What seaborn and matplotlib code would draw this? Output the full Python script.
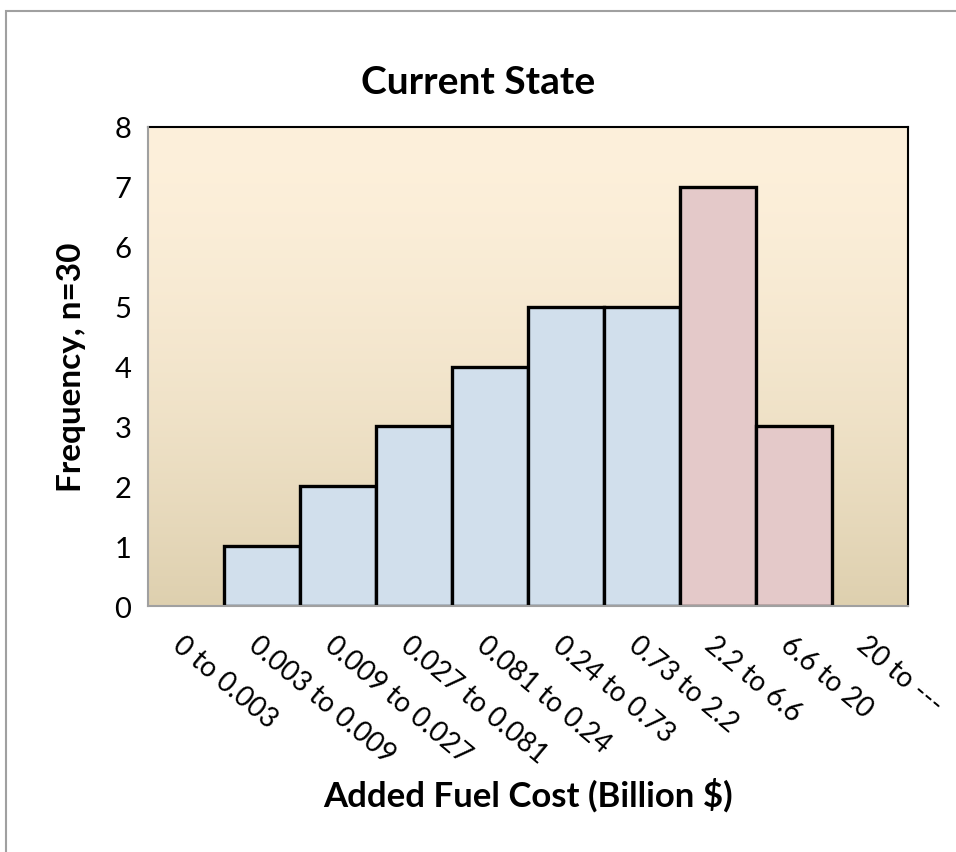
import matplotlib
matplotlib.use('Agg')
import matplotlib.pyplot as plt
from matplotlib.patches import Rectangle
from matplotlib.transforms import ScaledTranslation
import numpy as np
import pandas as pd
import seaborn as sns

# -- Data ----------------------------------------------------------------------
categories = ['0 to 0.003', '0.003 to 0.009', '0.009 to 0.027', '0.027 to 0.081',
              '0.081 to 0.24', '0.24 to 0.73', '0.73 to 2.2', '2.2 to 6.6',
              '6.6 to 20', '20 to ---']
frequency = [0, 1, 2, 3, 4, 5, 5, 7, 3, 0]
group = ['low'] * 7 + ['high'] * 3
y_ticks = [0, 1, 2, 3, 4, 5, 6, 7, 8]

palette = {'low': '#CCDFF1', 'high': '#E9C4C4'}

sns.set_theme(style='white')
plt.rcParams['font.family'] = ['Lato', 'DejaVu Sans']
plt.rcParams['text.color'] = 'black'
plt.rcParams['axes.labelcolor'] = 'black'

df = pd.DataFrame({'bin': categories, 'freq': frequency, 'group': group})

fig = plt.figure(figsize=(9.56, 8.53), dpi=100)
ax = fig.add_axes([148 / 956, 1 - 607 / 853, 760 / 956, 479 / 853])

# gradient plot-area background
grad = np.linspace(0, 1, 256).reshape(-1, 1)
top = np.array([253, 240, 219]) / 255
bottom = np.array([222, 208, 175]) / 255
img = top + (bottom - top) * grad[:, :, None] ** 1.6
ax.imshow(img, extent=[0, 1, 0, 1], transform=ax.transAxes, aspect='auto', zorder=0)

sns.barplot(data=df, x='bin', y='freq', hue='group', palette=palette, dodge=False,
            width=1.0, edgecolor='black', linewidth=2.4, legend=False, ax=ax, zorder=2)
for p in ax.patches:
    if p.get_height() == 0:
        p.set_visible(False)

ax.set_xlim(-0.5, len(categories) - 0.5)
ax.set_ylim(0, 8)
ax.set_yticks(y_ticks)
ax.tick_params(axis='y', length=0, labelsize=21, pad=12, colors='black')

# category boundaries as gray ticks
ax.set_xticks(np.arange(-0.5, len(categories)), minor=True)
ax.tick_params(axis='x', which='minor', length=8, width=1.5, color='#A0A0A0', direction='out')
ax.tick_params(axis='x', which='major', length=0, pad=18, labelsize=20, labelcolor='black')
ax.set_xticks(range(len(categories)))
ax.set_xticklabels(categories, rotation=-40, ha='left', va='top', rotation_mode='anchor')
for lab in ax.get_xticklabels():
    lab.set_transform(lab.get_transform() + ScaledTranslation(-2 / 100, 0, fig.dpi_scale_trans))

for side in ['left', 'bottom']:
    ax.spines[side].set_color('#A0A0A0')
    ax.spines[side].set_linewidth(1.5)
    ax.spines[side].set_zorder(3)
for side in ['top', 'right']:
    ax.spines[side].set_color('black')
    ax.spines[side].set_linewidth(1.5)
ax.grid(False)

ax.set_xlabel('Added Fuel Cost (Billion $)', fontsize=25, fontweight='bold')
ax.xaxis.set_label_coords(0.5, -(795 - 607) / 479)
ax.xaxis.label.set_va('center')
ax.set_ylabel('Frequency, n=30', fontsize=24, fontweight='bold')
ax.yaxis.set_label_coords(-(148 - 72) / 760, 0.5)
ax.yaxis.label.set_va('center')
fig.text(0.5, 1 - 82 / 853, 'Current State', fontsize=28, fontweight='bold',
         ha='center', va='center')

# chart outer border
fig.patches.append(Rectangle((6 / 956, -0.1), 1.2, 1 - 12 / 853 + 0.1, transform=fig.transFigure,
                             fill=False, edgecolor='#A0A0A0', linewidth=1.5))

fig.savefig('out.png', dpi=100)
